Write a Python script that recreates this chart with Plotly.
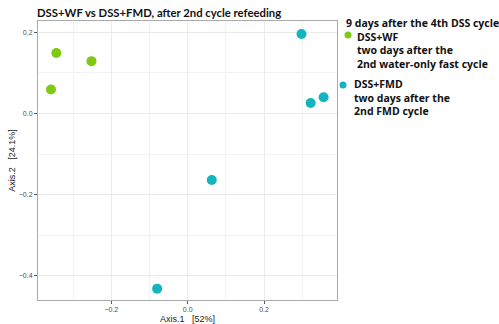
import plotly.graph_objects as go

wf_x = [-0.344, -0.252, -0.358]
wf_y = [0.149, 0.129, 0.059]
fmd_x = [0.298, 0.322, 0.356, 0.063, -0.080]
fmd_y = [0.196, 0.026, 0.040, -0.164, -0.432]

title = "DSS+WF vs DSS+FMD, after 2nd cycle refeeding"
legend_title = "9 days after the 4th DSS cycle"
wf_lines = ["DSS+WF", "two days after the", "2nd water-only fast cycle"]
fmd_lines = ["DSS+FMD", "two days after the", "2nd FMD cycle"]

green = "#7DC914"
teal = "#12B5BD"

# plot area in pixels
L, R, T, B = 38, 337, 21, 300
W, H = 499, 324

def px(x):
    return (x - L) / (R - L)

def py(y):
    return (B - y) / (B - T)

fig = go.Figure()
fig.add_trace(go.Scatter(x=wf_x, y=wf_y, mode="markers", name="DSS+WF",
                         marker=dict(color=green, size=10)))
fig.add_trace(go.Scatter(x=fmd_x, y=fmd_y, mode="markers", name="DSS+FMD",
                         marker=dict(color=teal, size=10)))

axis_common = dict(
    automargin=False,
    showgrid=True, gridcolor="#ebebeb", gridwidth=1,
    zeroline=False, showline=True, linecolor="#aaaaaa", linewidth=1, mirror=True,
    ticks="outside", ticklen=3, tickcolor="#555555",
    tickfont=dict(family="Liberation Sans, Arial", size=7, color="#4d4d4d"),
    tickformat=".1f",
    minor=dict(dtick=0.1, showgrid=True, gridcolor="#f2f2f2", ticks=""),
)
fig.update_xaxes(range=[-0.392, 0.391], dtick=0.2, tick0=0,
                 title=dict(text="Axis.1   [52%]", standoff=4,
                            font=dict(family="Liberation Sans, Arial", size=9, color="#222222")),
                 **axis_common)
fig.update_yaxes(range=[-0.46, 0.228], dtick=0.2, tick0=0,
                 title=dict(text="Axis.2   [24.1%]", standoff=1,
                            font=dict(family="Liberation Sans, Arial", size=9, color="#222222")),
                 **axis_common)

font_leg = dict(family="Open Sans", size=10.5, color="#111111")
ind = "&nbsp;" * 4

block_a = "<br>".join(["<b>" + legend_title + "</b>"] +
                      [ind + "<b>" + s + "</b>" for s in wf_lines])
block_b = "<br>".join(["<b>" + s + "</b>" for s in fmd_lines])

anns = [
    dict(text=block_a, xref="paper", yref="paper", x=px(344), y=py(43.5),
         xanchor="left", yanchor="middle", align="left", showarrow=False, font=font_leg),
    dict(text=block_b, xref="paper", yref="paper", x=px(352), y=py(97.3),
         xanchor="left", yanchor="middle", align="left", showarrow=False, font=font_leg),
]

shapes = []
for color, cx, cy in [(green, 348, 35), (teal, 343, 85)]:
    shapes.append(dict(type="circle", xref="paper", yref="paper",
                       xsizemode="pixel", ysizemode="pixel",
                       xanchor=px(cx), yanchor=py(cy),
                       x0=-3.5, x1=3.5, y0=-3.5, y1=3.5,
                       fillcolor=color, line=dict(width=0)))

fig.update_layout(
    width=W, height=H,
    margin=dict(l=L, r=W - R, t=T, b=H - B),
    paper_bgcolor="white", plot_bgcolor="white",
    showlegend=False,
    title=dict(text="<b>" + title + "</b>", x=(L - 1) / W, xanchor="left",
               y=1 - 13 / H, yanchor="middle",
               font=dict(family="Lato, Open Sans", size=11.3, color="#111111")),
    annotations=anns,
    shapes=shapes,
)

fig.write_html("out.html")
